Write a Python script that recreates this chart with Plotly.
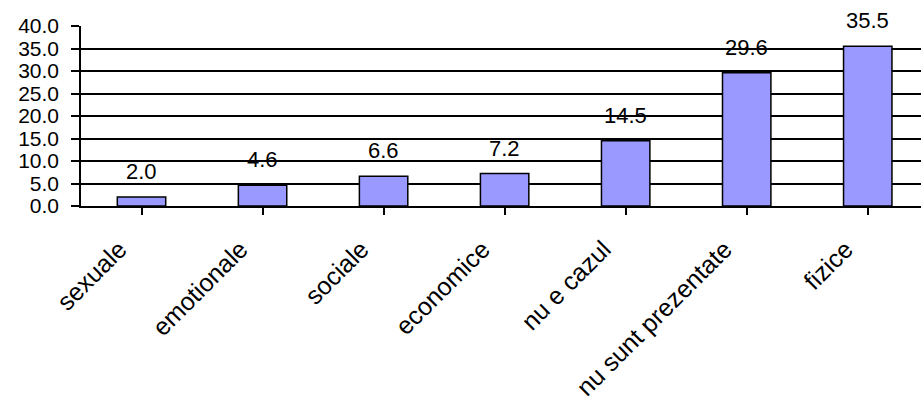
import plotly.graph_objects as go

categories = ["sexuale", "emotionale", "sociale", "economice", "nu e cazul",
              "nu sunt prezentate", "fizice"]
values = [2.0, 4.6, 6.6, 7.2, 14.5, 29.6, 35.5]
y_ticks = [0, 5, 10, 15, 20, 25, 30, 35, 40]
y_tick_labels = ["0.0", "5.0", "10.0", "15.0", "20.0", "25.0", "30.0", "35.0", "40.0"]

FONT = "Liberation Sans, Arial, sans-serif"

fig = go.Figure()
fig.add_trace(go.Bar(
    x=list(range(len(categories))),
    y=values,
    width=0.4,
    marker=dict(color="#9999FF", line=dict(color="black", width=1.5)),
    hoverinfo="skip",
))

for i, v in enumerate(values):
    fig.add_annotation(x=i, y=v, text=f"{v:.1f}", showarrow=False,
                       yanchor="bottom", yshift=11,
                       font=dict(family=FONT, size=22, color="black"))

fig.update_layout(
    width=921, height=401,
    margin=dict(l=81, r=0, t=26, b=195, autoexpand=False),
    plot_bgcolor="white", paper_bgcolor="white",
    showlegend=False,
    font=dict(family=FONT, size=21, color="black"),
)
fig.update_xaxes(
    tickmode="array", tickvals=list(range(len(categories))), ticktext=categories,
    range=[-0.5, 6.44], tickangle=-45, automargin=False,
    ticklabelshift=-22, ticklabelstandoff=10,
    showgrid=False, showline=True, linecolor="black", linewidth=1.5,
    ticks="outside", tickson="boundaries", ticklen=7, tickwidth=1.5, tickcolor="black",
    tickfont=dict(family=FONT, size=25, color="black"),
)
fig.update_yaxes(
    range=[0, 40], tickmode="array", tickvals=y_ticks, ticktext=y_tick_labels,
    automargin=False, ticklabelstandoff=8,
    showgrid=True, gridcolor="black", gridwidth=1.5,
    showline=True, linecolor="black", linewidth=1.5,
    ticks="outside", ticklen=8, tickwidth=1.5, tickcolor="black",
    tickfont=dict(family=FONT, size=21, color="black"),
    zeroline=False,
)

fig.write_html("out.html", config={"displayModeBar": False},
               post_script="document.body.style.margin='0';")
